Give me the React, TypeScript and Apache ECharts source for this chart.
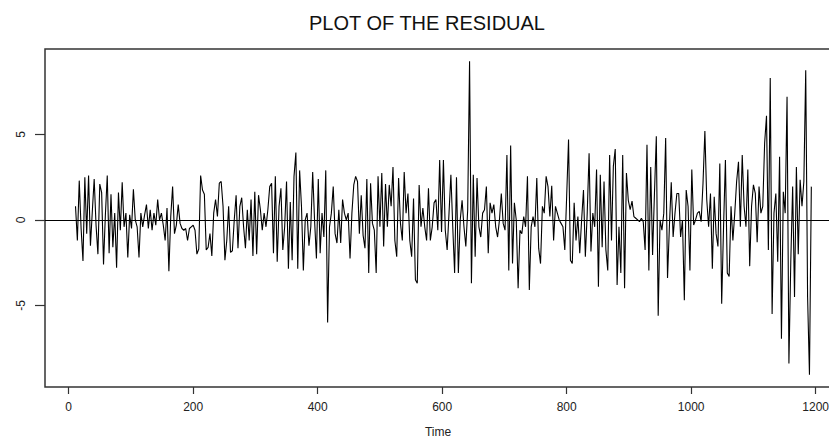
import React, { useEffect, useRef } from "react";
import * as echarts from "echarts";

// Residual series, one value every STEP time units starting at START_TIME
const START_TIME = 11;
const STEP = 3;

const residualsA = [
  0.8, -1.2, 2.3, -0.5, -2.4, 2.5, -0.8, 2.6, -1.5, 0.5,
  2.4, -0.3, -2.0, 2.1, 1.6, -2.6, 0.3, 2.6, -1.95, 1.5,
  -1.6, 0.4, -2.8, 1.6, -0.6, 2.2, -0.4, 0.4, -2.2, 0.3,
  -0.5, 1.8, 0.0, -0.4, -2.2, 0.4, -0.4, 0.3, 0.9, -0.5,
  0.6, -0.6, 0.4, -0.3, 1.2, 0.0,
];
const residualsB = [
  0.4, -0.3, -1.2, 0.7, -3.0, 0.2, 1.95, -0.8, -0.3, 0.9,
  -0.2, -0.5, -0.6, -0.5, -1.2, -0.5, -0.4, -0.3, -0.6, -2.0,
  -1.7, 2.6, 1.75, 1.5, -1.75, -1.6, -0.8, -2.1, 0.4, 1.2,
  0.2, 2.15, 2.25, 0.8, -2.35, -1.2, 0.8, -1.9, -1.8, 0.0,
  1.45, -1.65, 0.8, 1.3, -0.4, -1.65, 0.6, -1.2, 1.2, -2.1,
  1.65,
];
const residualsC = [
  -2.0, 1.45, 0.6, -0.6, 0.4, -0.4, 0.6, 1.95, 2.15, -1.95,
  2.55, -2.45, 0.8, 1.85, -1.75, -0.4, 2.25, -2.85, 1.05, -2.35,
  2.55, 3.95, -2.85, 2.9, 0.8, -2.95, 0.0, 0.4, -1.5, -0.4,
  2.8, 0.0, -2.25, 2.4, -1.95, 0.4, -1.0, 2.9, -6.0, -0.4,
  0.4, 1.95, -0.8, -1.35, 0.6, -1.35, 1.2, 0.4, 0.0, 0.4,
];
const residualsD = [
  -2.25, 0.4, 2.05, 2.55, 2.25, -0.8, 1.45, -0.9, -1.65, 2.4,
  -3.1, 2.15, -0.2, -0.6, -3.1, 2.55, -0.4, 2.75, -1.55, 2.1,
  -0.4, 2.05, 0.8, 3.1, -1.2, -2.15, 2.45, -0.2, -1.2, 2.8,
  0.4, 1.55, -1.2, -2.15, 1.25, -3.5, -3.7, 2.05, -0.4, 0.7,
  -0.4, -1.2, 1.85, -1.2, -0.4, 1.0, 1.2, -0.6, 3.5, -0.7,
  3.5,
];
const residualsE = [
  -0.6, -1.75, 0.4, 2.65, -0.4, -3.1, 2.5, -3.1, 0.0, 1.15,
  -0.4, -1.55, 0.6, 9.28, -3.7, 2.65, -2.15, 2.45, -0.4, -1.0,
  0.4, 0.6, 1.95, -1.95, 1.0, 0.4, 0.9, -0.4, -1.0, 0.0,
  1.55, -0.2, -0.6, 3.8, -2.95, 4.35, -2.55, 1.0, 0.0, -4.0,
  -0.6, -0.8, 0.2, -0.4, 2.55, -4.1, -0.4, 0.2, -0.4, 2.45,
  -1.65,
];
const residualsF = [
  -2.55, 0.8, 0.4, 2.55, 1.95, 0.2, 2.0, -1.2, 0.8, 0.4,
  0.0, -0.2, -0.4, -1.75, 1.4, 4.7, -2.35, -2.55, 1.0, -1.2,
  0.2, -1.95, 0.0, 1.75, -2.15, 0.4, 3.9, -1.85, 0.4, -0.4,
  2.95, -3.9, 2.65, -1.6, 2.25, -1.75, -2.95, 3.8, -1.2, 3.15,
  4.15, -3.8, -0.4, -3.1, 3.8, -4.0, 2.75, 1.15, 0.6, 1.1,
  0.2,
];
const residualsG = [
  0.1, 0.0, -0.1, 0.1, -0.1, -1.75, 4.4, -2.95, 3.1, -2.05,
  1.55, 4.9, -5.6, 0.0, -0.6, 0.4, 4.8, -3.4, -0.4, 2.2,
  -1.0, 0.4, 1.55, 1.55, -1.0, 0.0, -4.7, 1.75, 0.8, -2.95,
  2.95, -0.3, 0.0, 0.4, 0.5, -0.1, 2.15, 5.2, 1.2, -0.4,
  1.55, -2.85, 1.35, -0.8, -1.55, 3.3, -4.9, -0.4, 3.5, -3.1,
  -3.3,
];
const residualsH = [
  0.8, -1.2, 0.4, 2.25, 3.4, -0.4, 3.8, 0.8, -0.4, 2.95,
  -2.7, 0.8, 2.05, 1.55, -1.3, 1.95, 0.4, 0.8, 4.5, 6.1,
  -1.75, 8.3, -5.5, 0.4, 1.55, -2.45, 3.7, -6.95, 1.65, 0.4,
  7.2, -8.4, -2.45, 1.95, -4.5, 3.1, -2.0, 2.35, 0.8, 2.25,
  8.75, -4.5, -9.05, 1.95,
];

const residuals = [
  ...residualsA, ...residualsB, ...residualsC, ...residualsD,
  ...residualsE, ...residualsF, ...residualsG, ...residualsH,
];

const xTickValues = [0, 200, 400, 600, 800, 1000, 1200];
const yTickValues = [-5, 0, 5];

const FONT = "Liberation Sans, Arial, sans-serif";

export default function App() {
  const ref = useRef<HTMLDivElement | null>(null);

  useEffect(() => {
    if (!ref.current) return;
    const chart = echarts.init(ref.current, null, { renderer: "svg" });
    const seriesData = residuals.map((v, i) => [START_TIME + STEP * i, v]);
    chart.setOption({
      animation: false,
      backgroundColor: "#ffffff",
      title: {
        text: "PLOT OF THE RESIDUAL",
        left: 422,
        top: 8,
        textAlign: "center",
        textStyle: {
          fontFamily: FONT,
          fontSize: 20,
          fontWeight: "normal",
          color: "#111",
        },
      },
      grid: {
        left: 45,
        top: 49,
        width: 786,
        height: 338,
        show: true,
        borderColor: "#333",
        borderWidth: 1.5,
        containLabel: false,
        outerBoundsMode: "none",
      },
      xAxis: {
        type: "value",
        min: -38,
        max: 1224.6,
        name: "Time",
        nameLocation: "middle",
        nameGap: 39,
        nameTextStyle: { fontFamily: FONT, fontSize: 12, color: "#222" },
        axisLine: { show: false, onZero: false },
        splitLine: { show: false },
        axisTick: {
          show: true,
          length: 7,
          customValues: xTickValues,
          lineStyle: { color: "#333", width: 1.2 },
        },
        axisLabel: {
          customValues: xTickValues,
          formatter: (v: number) => String(v),
          margin: 14,
          fontFamily: FONT,
          fontSize: 12,
          color: "#222",
        },
      },
      yAxis: {
        type: "value",
        min: -9.77,
        max: 10.0,
        axisLine: { show: false, onZero: false },
        splitLine: { show: false },
        axisTick: {
          show: true,
          length: 10,
          customValues: yTickValues,
          lineStyle: { color: "#333", width: 1.2 },
        },
        axisLabel: {
          customValues: yTickValues,
          formatter: (v: number) => String(v),
          rotate: 90,
          margin: 18,
          fontFamily: FONT,
          fontSize: 12,
          color: "#222",
        },
      },
      series: [
        {
          name: "Residual",
          type: "line",
          data: seriesData,
          showSymbol: false,
          symbol: "none",
          lineStyle: { color: "#000", width: 1.1 },
          markLine: {
            silent: true,
            symbol: ["none", "none"],
            label: { show: false },
            lineStyle: { color: "#000", width: 1.2, type: "solid" },
            data: [{ yAxis: 0 }],
          },
        },
      ],
    });
    return () => chart.dispose();
  }, []);

  return (
    <div
      ref={ref}
      style={{ position: "fixed", left: 0, top: 0, width: 829, height: 440, background: "#fff" }}
    />
  );
}
